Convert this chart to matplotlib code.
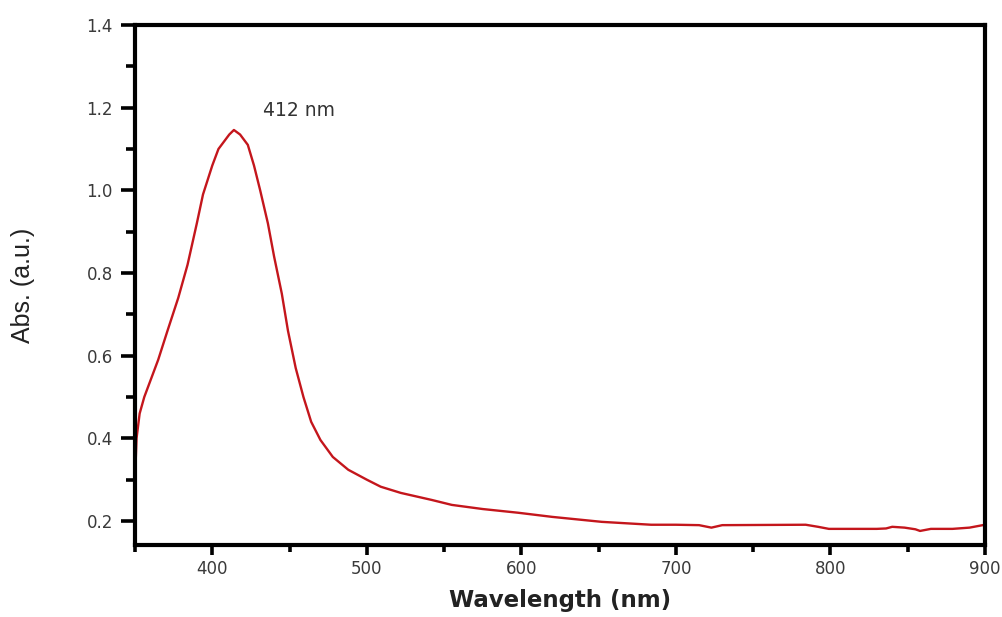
import matplotlib.pyplot as plt
from matplotlib.ticker import MultipleLocator

# UV-vis absorption spectrum
wavelength = [350, 351, 353, 356, 360, 365, 371, 378, 384, 390, 394, 400, 404,
              408, 411, 414, 418, 423, 427, 431, 436, 440, 445, 449, 454, 459,
              464, 470, 478, 488, 500, 509, 522, 542, 555, 575, 598, 620, 652,
              684, 700, 715, 723, 730, 784, 792, 799, 830, 836, 840, 848, 855,
              858, 865, 879, 890, 900]
absorbance = [0.30, 0.40, 0.46, 0.50, 0.54, 0.59, 0.66, 0.74, 0.82, 0.92, 0.99,
              1.06, 1.10, 1.12, 1.135, 1.146, 1.135, 1.11, 1.06, 1.00, 0.92,
              0.84, 0.75, 0.66, 0.57, 0.50, 0.44, 0.396, 0.355, 0.324, 0.30,
              0.283, 0.268, 0.251, 0.239, 0.229, 0.22, 0.21, 0.198, 0.191,
              0.191, 0.19, 0.184, 0.19, 0.191, 0.186, 0.181, 0.181, 0.182,
              0.186, 0.184, 0.180, 0.176, 0.181, 0.181, 0.184, 0.191]
peak_label = "412 nm"

plt.rcParams['font.family'] = ['DejaVu Sans']

fig = plt.figure(figsize=(10.03, 6.17), dpi=100)
ax = fig.add_axes([0.1346, 0.1167, 0.8474, 0.8428])

ax.plot(wavelength, absorbance, color='#c4161c', lw=1.7)

ax.set_xlim(350, 900)
ax.set_ylim(0.142, 1.4)
ax.xaxis.set_minor_locator(MultipleLocator(50))
ax.yaxis.set_minor_locator(MultipleLocator(0.1))
ax.set_xticks([400, 500, 600, 700, 800, 900])
ax.set_yticks([0.2, 0.4, 0.6, 0.8, 1.0, 1.2, 1.4])

for s in ax.spines.values():
    s.set_linewidth(3.0)
ax.tick_params(which='both', direction='out', width=2.6, labelsize=12,
               labelcolor='#3a3a3a', top=False, right=False)
ax.tick_params(axis='x', which='major', length=7, pad=4)
ax.tick_params(axis='x', which='minor', length=5)
ax.tick_params(axis='y', which='major', length=10, pad=6)
ax.tick_params(axis='y', which='minor', length=6.5)

ax.set_xlabel('Wavelength (nm)', fontsize=16.5, fontweight='bold',
              labelpad=8, color='#222222')
ax.set_ylabel('Abs. (a.u.)', fontsize=18, family=['Liberation Sans'],
              color='#222222')
ax.yaxis.set_label_coords(-0.1176, 0.5)

ax.text(433, 1.194, peak_label, fontsize=13.5, color='#333333',
        va='center', ha='left')

fig.savefig('out.png', dpi=100)
